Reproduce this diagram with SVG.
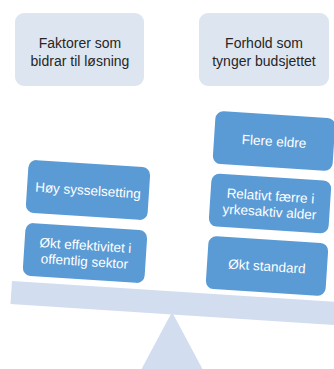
<svg xmlns="http://www.w3.org/2000/svg" width="334" height="369" viewBox="0 0 334 369">
<style>
.hdr{fill:#dde5f1;}
.hdrt{font-family:"Liberation Sans",Arial,sans-serif;font-size:14px;fill:#262626;text-anchor:middle;}
.blk{fill:#5b9bd5;}
.blkt{font-family:"Liberation Sans",Arial,sans-serif;font-size:13.5px;fill:#ffffff;text-anchor:middle;}
.scale{fill:#d2ddef;}
</style>
<rect width="334" height="369" fill="#ffffff"/>
<g id="header-left">
<rect class="hdr" x="15" y="13" width="129" height="73" rx="9"/>
<text class="hdrt" x="80" y="48">Faktorer som</text>
<text class="hdrt" x="80" y="66">bidrar til løsning</text>
</g>
<g id="header-right">
<rect class="hdr" x="199" y="13" width="130" height="73" rx="9"/>
<text class="hdrt" x="264" y="48">Forhold som</text>
<text class="hdrt" x="264" y="66">tynger budsjettet</text>
</g>
<g id="fulcrum">
<polygon class="scale" points="172,312 203,370 141,370"/>
</g>
<g id="beam">
<polygon class="scale" points="12,281 345,302.5 343.5,325.5 10.5,304"/>
</g>
<g id="hoy-sysselsetting" transform="translate(88,190) rotate(3.7)">
<rect class="blk" x="-61" y="-26.5" width="122" height="53" rx="8"/>
<text class="blkt" x="0" y="5">Høy sysselsetting</text>
</g>
<g id="okt-effektivitet" transform="translate(85,253) rotate(3.7)">
<rect class="blk" x="-61" y="-26.5" width="122" height="53" rx="8"/>
<text class="blkt" x="0" y="-3">Økt effektivitet i</text>
<text class="blkt" x="0" y="13">offentlig sektor</text>
</g>
<g id="flere-eldre" transform="translate(274,141) rotate(3.7)">
<rect class="blk" x="-60" y="-26.5" width="120" height="53" rx="8"/>
<text class="blkt" x="0" y="5">Flere eldre</text>
</g>
<g id="relativt-faerre" transform="translate(270,203.5) rotate(3.7)">
<rect class="blk" x="-60" y="-26.5" width="120" height="53" rx="8"/>
<text class="blkt" x="0" y="-3">Relativt færre i</text>
<text class="blkt" x="0" y="13">yrkesaktiv alder</text>
</g>
<g id="okt-standard" transform="translate(267,266) rotate(3.7)">
<rect class="blk" x="-60" y="-26.5" width="120" height="53" rx="8"/>
<text class="blkt" x="0" y="5">Økt standard</text>
</g>
<g id="connectors"/>
</svg>
